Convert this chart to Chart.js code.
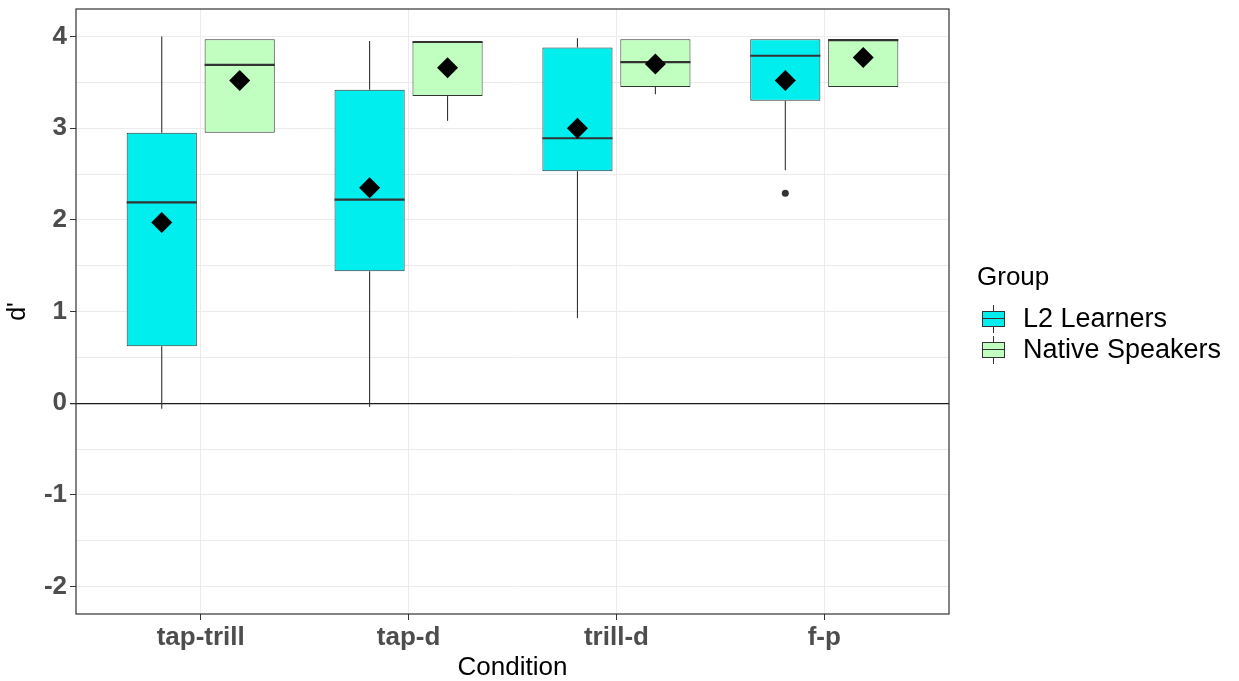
<!DOCTYPE html>
<html>
<head>
<meta charset="utf-8">
<script src="https://cdn.jsdelivr.net/npm/chart.js@4.4.1/dist/chart.umd.min.js"></script>
<style>
  body { margin: 0; background: #fff; font-family: "Liberation Sans", Arial, sans-serif; }
  #wrap { position: relative; width: 1239px; height: 681px; }
  #legend-title { position: absolute; left: 977px; top: 261px; font-size: 26px; line-height: 30px; color: #000; }
  #legend-items { position: absolute; left: 982px; top: 303px; }
  .lg-row { display: flex; align-items: center; height: 31px; }
  .lg-key { position: relative; width: 23px; height: 28px; margin-right: 18px; }
  .lg-whisker { position: absolute; left: 11px; top: 0; width: 1px; height: 28px; background: #333; }
  .lg-box { position: absolute; left: 0; top: 6px; width: 21px; height: 14px; border: 1px solid #333; }
  .lg-med { position: absolute; left: 0; top: 6px; width: 21px; height: 1.5px; background: #333; }
  .lg-label { font-size: 27px; color: #000; }
</style>
</head>
<body>
<div id="wrap">
  <canvas id="boxChart" width="1239" height="681"></canvas>
  <div id="legend-title">Group</div>
  <div id="legend-items"></div>
</div>
<script>
// Data
const conditions = ['tap-trill', 'tap-d', 'trill-d', 'f-p'];

const l2Min      = [-0.06, -0.04, 0.93, 2.54];
const l2Q1       = [0.62, 1.44, 2.53, 3.30];
const l2Median   = [2.19, 2.22, 2.89, 3.79];
const l2Q3       = [2.95, 3.42, 3.88, 3.97];
const l2Max      = [4.00, 3.95, 3.98, 3.97];
const l2Mean     = [1.97, 2.35, 3.00, 3.52];
const l2Outliers = [[], [], [], [2.29]];

const nsMin      = [2.95, 3.08, 3.37, 3.45];
const nsQ1       = [2.95, 3.35, 3.45, 3.45];
const nsMedian   = [3.69, 3.94, 3.72, 3.96];
const nsQ3       = [3.97, 3.94, 3.97, 3.97];
const nsMax      = [3.97, 3.94, 3.97, 3.97];
const nsMean     = [3.52, 3.66, 3.70, 3.77];
const nsOutliers = [[], [], [], []];

const yTicks = [-2, -1.5, -1, -0.5, 0, 0.5, 1, 1.5, 2, 2.5, 3, 3.5, 4];

function boxData(q1, q3) {
    return conditions.map(function(c, i) { return { x: i + 1, y: [q1[i], q3[i]] }; });
}

// whiskers, medians, means and outliers on top of the floating bars
const boxExtras = {
    id: 'boxExtras',
    afterDatasetsDraw: function(chart) {
        const ctx = chart.ctx;
        const y = chart.scales.y;
        chart.data.datasets.forEach(function(ds, i) {
            const meta = chart.getDatasetMeta(i);
            const s = ds.stats;
            meta.data.forEach(function(bar, j) {
                const half = bar.width / 2;
                ctx.save();
                ctx.strokeStyle = '#333333';
                ctx.lineWidth = 1.1;
                ctx.beginPath();
                ctx.moveTo(bar.x, y.getPixelForValue(s.q3[j]));
                ctx.lineTo(bar.x, y.getPixelForValue(s.max[j]));
                ctx.moveTo(bar.x, y.getPixelForValue(s.q1[j]));
                ctx.lineTo(bar.x, y.getPixelForValue(s.min[j]));
                ctx.stroke();

                // median
                ctx.lineWidth = 2.2;
                ctx.beginPath();
                const my = y.getPixelForValue(s.median[j]);
                ctx.moveTo(bar.x - half, my);
                ctx.lineTo(bar.x + half, my);
                ctx.stroke();

                // outliers
                ctx.fillStyle = '#333333';
                s.outliers[j].forEach(function(v) {
                    ctx.beginPath();
                    ctx.arc(bar.x, y.getPixelForValue(v), 3.5, 0, Math.PI * 2);
                    ctx.fill();
                });

                // mean diamond
                const dy = y.getPixelForValue(s.mean[j]);
                ctx.fillStyle = '#000000';
                ctx.beginPath();
                ctx.moveTo(bar.x, dy - 10.5);
                ctx.lineTo(bar.x + 10.5, dy);
                ctx.lineTo(bar.x, dy + 10.5);
                ctx.lineTo(bar.x - 10.5, dy);
                ctx.closePath();
                ctx.fill();
                ctx.restore();
            });
        });
    },
    afterDraw: function(chart) {
        const a = chart.chartArea;
        const ctx = chart.ctx;
        ctx.save();
        ctx.strokeStyle = '#333333';
        ctx.lineWidth = 1.2;
        ctx.strokeRect(a.left, a.top, a.right - a.left, a.bottom - a.top);
        ctx.restore();
    }
};

document.addEventListener("DOMContentLoaded", function() {
    const ctx = document.getElementById('boxChart').getContext('2d');

    const chart = new Chart(ctx, {
        type: 'bar',
        data: {
            datasets: [{
                label: 'L2 Learners',
                data: boxData(l2Q1, l2Q3),
                backgroundColor: '#00EEEE',
                borderColor: '#333333',
                borderWidth: 1,
                borderSkipped: false,
                stats: { min: l2Min, q1: l2Q1, median: l2Median, q3: l2Q3, max: l2Max, mean: l2Mean, outliers: l2Outliers }
            }, {
                label: 'Native Speakers',
                data: boxData(nsQ1, nsQ3),
                backgroundColor: '#C1FFC1',
                borderColor: '#333333',
                borderWidth: 1,
                borderSkipped: false,
                stats: { min: nsMin, q1: nsQ1, median: nsMedian, q3: nsQ3, max: nsMax, mean: nsMean, outliers: nsOutliers }
            }]
        },
        options: {
            responsive: false,
            animation: false,
            categoryPercentage: 0.75,
            barPercentage: 0.9,
            layout: { padding: { left: 0, top: 9, right: 290, bottom: 0 } },
            plugins: {
                legend: { display: false },
                tooltip: { enabled: false }
            },
            scales: {
                x: {
                    type: 'linear',
                    min: 0.4,
                    max: 4.6,
                    offset: false,
                    afterBuildTicks: function(scale) {
                        scale.ticks = conditions.map(function(c, i) { return { value: i + 1 }; });
                    },
                    afterFit: function(scale) {
                        scale.height = 67;
                        scale.paddingLeft = 0;
                        scale.paddingRight = 0;
                    },
                    grid: { offset: false, color: '#EBEBEB', tickColor: '#333333', tickLength: 6 },
                    border: { display: false },
                    ticks: {
                        autoSkip: false,
                        maxRotation: 0,
                        padding: 2,
                        color: '#4D4D4D',
                        font: { family: 'Liberation Sans, Arial', size: 26, weight: 'bold' },
                        callback: function(v) { return conditions[v - 1]; }
                    },
                    title: {
                        display: true,
                        text: 'Condition',
                        color: '#000',
                        padding: { top: 0, bottom: -2 },
                        font: { family: 'Liberation Sans, Arial', size: 26 }
                    }
                },
                y: {
                    min: -2.3,
                    max: 4.3,
                    afterBuildTicks: function(scale) {
                        scale.ticks = yTicks.map(function(v) { return { value: v }; });
                    },
                    afterFit: function(scale) {
                        scale.width = 76;
                        scale.paddingTop = 0;
                        scale.paddingBottom = 0;
                    },
                    grid: {
                        color: function(c) { return c.tick.value === 0 ? '#1A1A1A' : '#EBEBEB'; },
                        lineWidth: function(c) { return c.tick.value === 0 ? 1.3 : 1; },
                        tickColor: function(c) { return Number.isInteger(c.tick.value) ? '#333333' : 'rgba(0,0,0,0)'; },
                        tickLength: 6
                    },
                    border: { display: false },
                    ticks: {
                        autoSkip: false,
                        padding: 3,
                        color: '#4D4D4D',
                        font: { family: 'Liberation Sans, Arial', size: 26, weight: 'bold' },
                        callback: function(v) { return Number.isInteger(v) ? String(v) : ''; }
                    },
                    title: {
                        display: true,
                        text: "d'",
                        color: '#000',
                        padding: { top: 3, bottom: 0 },
                        font: { family: 'Liberation Sans, Arial', size: 25 }
                    }
                }
            }
        },
        plugins: [boxExtras]
    });

    // HTML legend built from the datasets
    const items = document.getElementById('legend-items');
    chart.data.datasets.forEach(function(ds) {
        const row = document.createElement('div');
        row.className = 'lg-row';
        row.innerHTML = '<div class="lg-key"><div class="lg-whisker"></div>' +
            '<div class="lg-box" style="background:' + ds.backgroundColor + '"><div class="lg-med"></div></div></div>' +
            '<span class="lg-label">' + ds.label + '</span>';
        items.appendChild(row);
    });
});
</script>
</body>
</html>
